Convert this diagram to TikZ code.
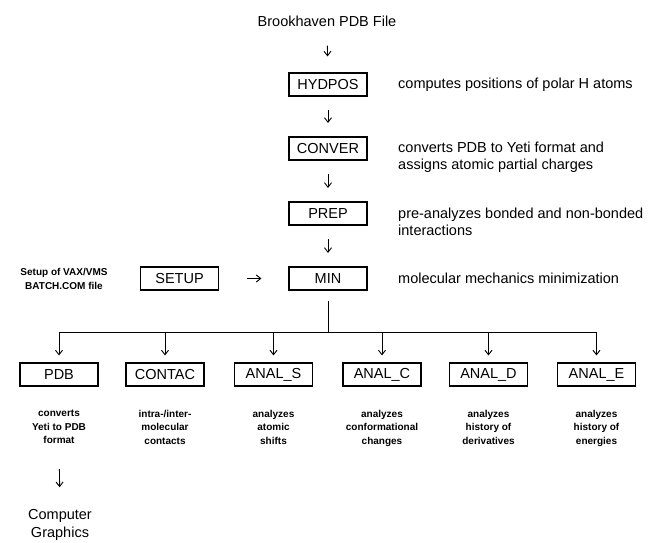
\documentclass[tikz,border=0pt]{standalone}
\usepackage{fontspec}
\setmainfont{Liberation Sans}
\usetikzlibrary{arrows.meta}
\begin{document}
\begin{tikzpicture}[x=1pt, y=1pt,
    prog/.style={draw, line width=1.1pt, minimum width=78pt, minimum height=23pt, inner sep=0pt, font=\fontsize{14.5}{17}\selectfont},
    desc/.style={anchor=west, align=left, inner sep=0pt, font=\fontsize{14.5}{17}\selectfont},
    minor/.style={align=center, inner sep=0pt, font=\fontsize{10}{13.5}\selectfont\bfseries},
    flow/.style={line width=0.9pt, -{Straight Barb[length=4.5pt,width=7pt]}},
    chain/.style={flow, shorten <=13.5pt, shorten >=13.5pt}]
    \useasboundingbox (0,0) rectangle (653,542);
    % main sequence
    \node[inner sep=0pt, font=\fontsize{14.5}{17}\selectfont] (pdbfile) at (327,521) {Brookhaven PDB File};
    \node[prog] (hydpos) at (328,457.5) {HYDPOS};
    \node[prog] (conver) at (328,393.5) {CONVER};
    \node[prog] (prep) at (328,328.5) {PREP};
    \node[prog] (min) at (328,263.5) {MIN};
    \node[prog] (setup) at (179.5,263.5) {SETUP};
    \node[minor] (setupnote) at (64,263) {Setup of VAX/VMS\\BATCH.COM file};
    \node[desc] (hydposnote) at (398,457.5) {computes positions of polar H atoms};
    \node[desc] (convernote) at (398,384.5) {converts PDB to Yeti format and\\assigns atomic partial charges};
    \node[desc] (prepnote) at (398,320.5) {pre-analyzes bonded and non-bonded\\interactions};
    \node[desc] (minnote) at (398,263.5) {molecular mechanics minimization};
    \draw[flow, shorten <=19pt, shorten >=16pt] (pdbfile) -- (hydpos);
    \draw[chain] (hydpos) -- (conver);
    \draw[chain] (conver) -- (prep);
    \draw[chain] (prep) -- (min);
    \draw[flow, shorten <=28pt, shorten >=27pt] (setup) -- (min);
    % analysis programs
    \node[prog] (pdbout) at (59,167.5) {PDB};
    \node[prog] (contac) at (165,167.5) {CONTAC};
    \node[prog] (anals) at (273.5,167.5) {ANAL\_S};
    \node[prog] (analc) at (382,167.5) {ANAL\_C};
    \node[prog] (anald) at (488.5,167.5) {ANAL\_D};
    \node[prog] (anale) at (596.5,167.5) {ANAL\_E};
    \node[minor, anchor=north] (pdbnote) at (59,132) {converts\\Yeti to PDB\\format};
    \node[minor, anchor=north] (contacnote) at (165,132) {intra-/inter-\\molecular\\contacts};
    \node[minor, anchor=north] (analsnote) at (273.5,132) {analyzes\\atomic\\shifts};
    \node[minor, anchor=north] (analcnote) at (382,132) {analyzes\\conformational\\changes};
    \node[minor, anchor=north] (analdnote) at (488.5,132) {analyzes\\history of\\derivatives};
    \node[minor, anchor=north] (analenote) at (596.5,132) {analyzes\\history of\\energies};
    \node[inner sep=0pt, align=center, font=\fontsize{14.5}{18}\selectfont] (graphics) at (60,17) {Computer\\Graphics};
    \coordinate (branch) at (328,210);
    \draw[line width=0.9pt, shorten <=10pt] (min) -- (branch);
    \draw[line width=0.9pt] (branch -| pdbout) -- (branch -| anale);
    \draw[flow, shorten >=7pt] (branch -| pdbout) -- (pdbout);
    \draw[flow, shorten >=7pt] (branch -| contac) -- (contac);
    \draw[flow, shorten >=7pt] (branch -| anals) -- (anals);
    \draw[flow, shorten >=7pt] (branch -| analc) -- (analc);
    \draw[flow, shorten >=7pt] (branch -| anald) -- (anald);
    \draw[flow, shorten >=7pt] (branch -| anale) -- (anale);
    \draw[flow, shorten <=25pt, shorten >=22pt] (pdbnote) -- (graphics);
\end{tikzpicture}
\end{document}
